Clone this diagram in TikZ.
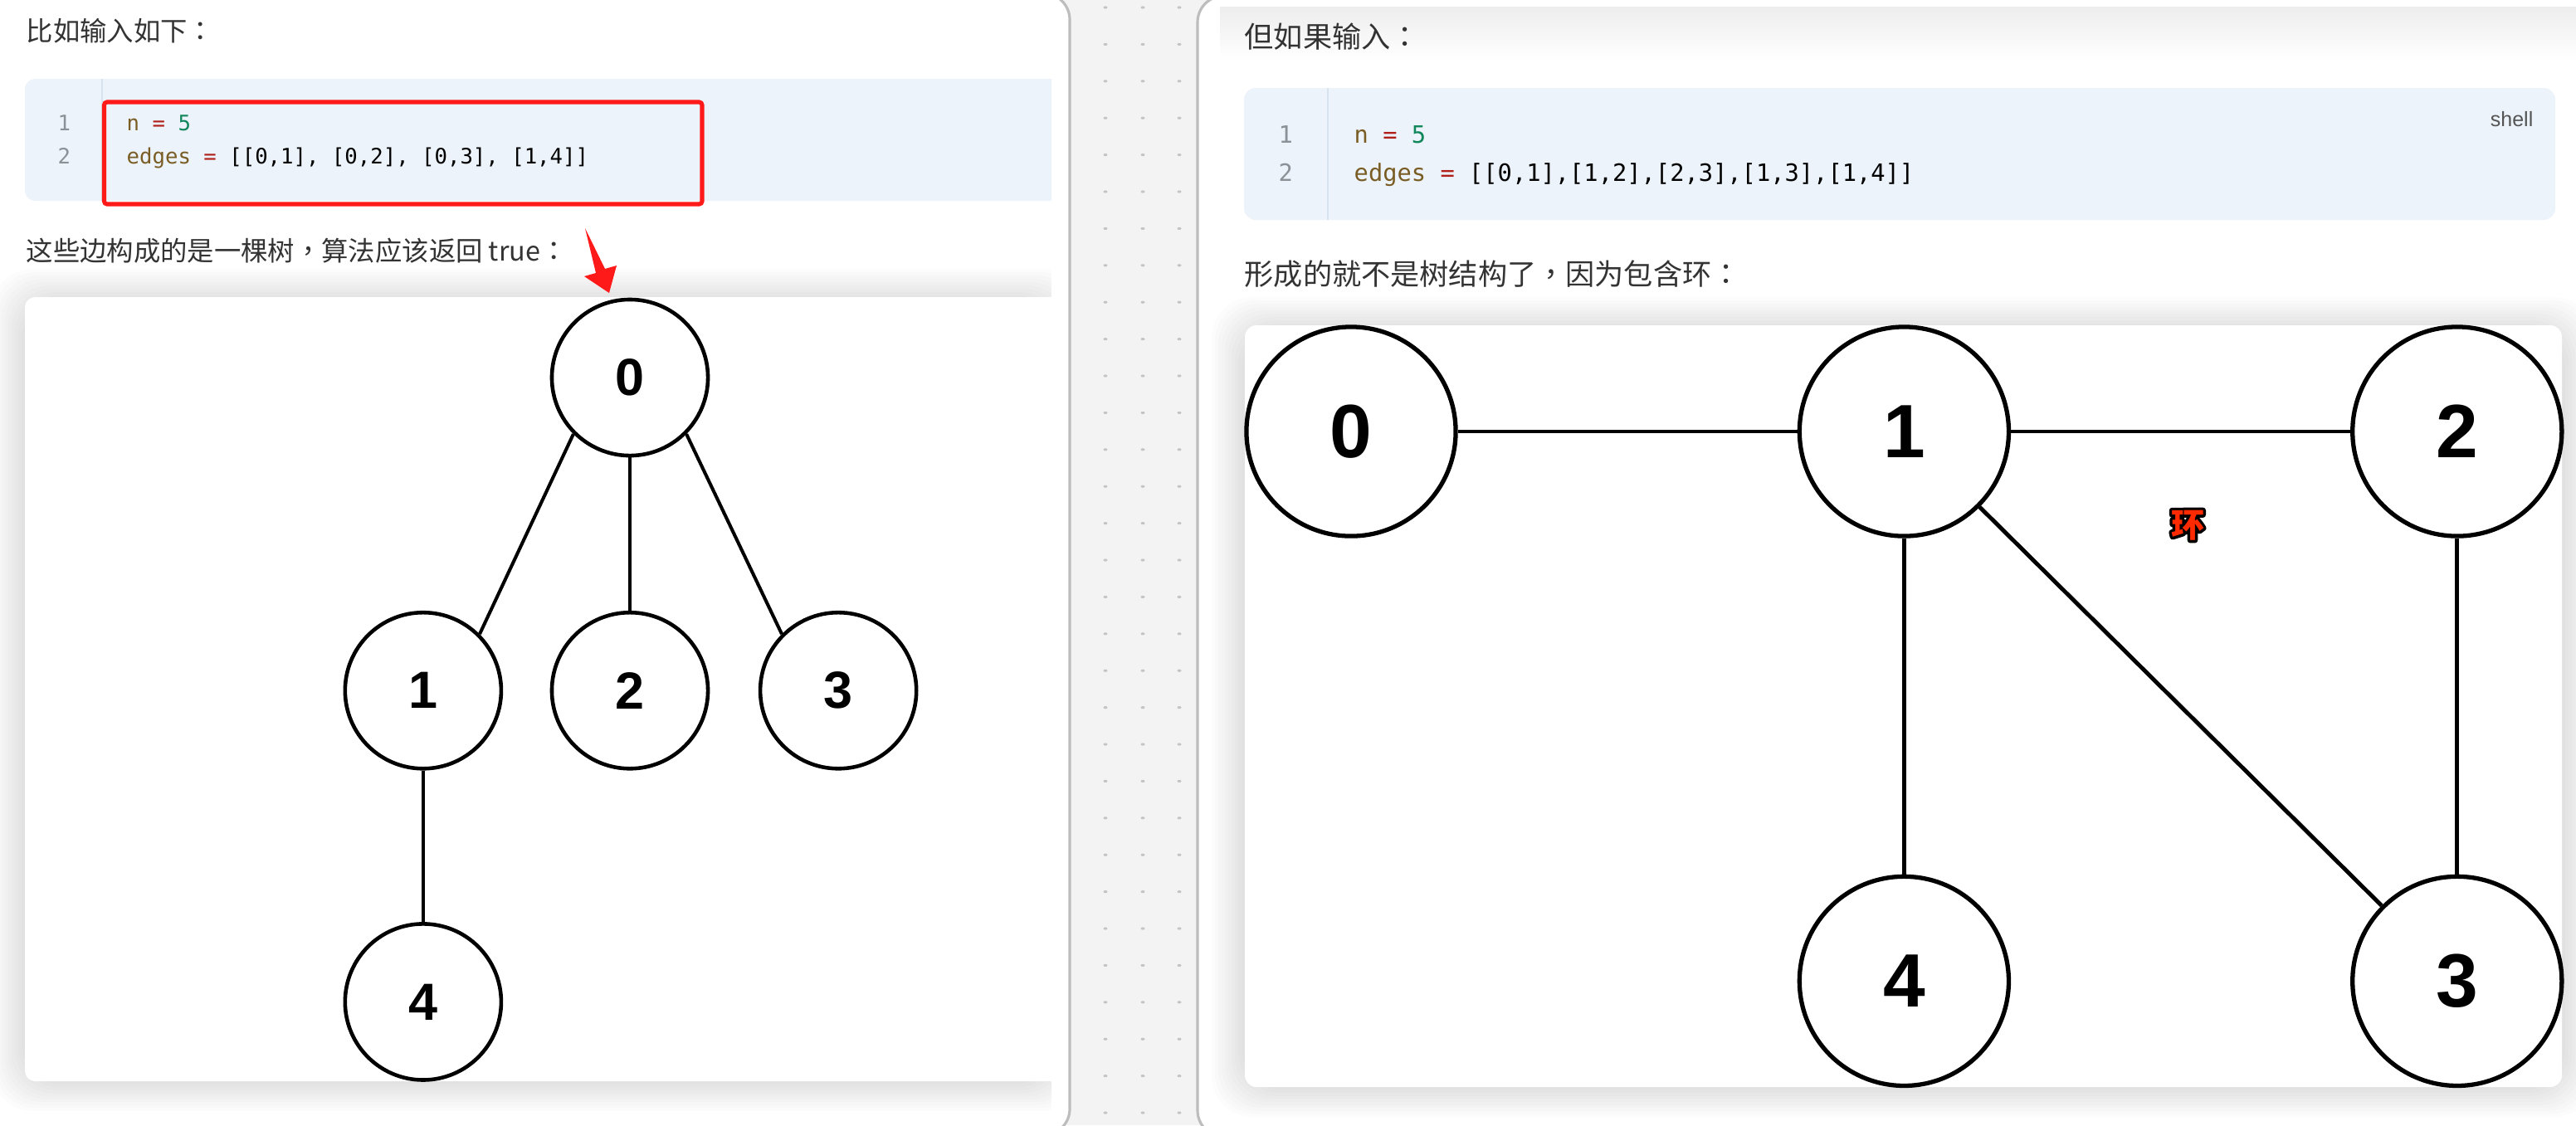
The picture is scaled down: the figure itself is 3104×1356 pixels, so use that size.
\documentclass[tikz,border=0pt]{standalone}
\usepackage{fontspec}
\setmainfont{Liberation Sans}
\newfontfamily\cjkfont{Noto Sans CJK SC}
\newfontfamily\cjkpunct{Noto Sans CJK TC}
\newfontfamily\codefont{DejaVu Sans Mono}
\usetikzlibrary{positioning, calc}
\definecolor{pagegray}{HTML}{F3F3F3}
\definecolor{panelline}{HTML}{BDBDBD}
\definecolor{dotgray}{HTML}{C4C4C4}
\definecolor{textdark}{HTML}{333333}
\definecolor{codebg}{HTML}{ECF3FA}
\definecolor{gutterline}{HTML}{D6E2EE}
\definecolor{linenogray}{HTML}{8C9097}
\definecolor{codevar}{HTML}{7A5D24}
\definecolor{codeop}{HTML}{B0201A}
\definecolor{codenum}{HTML}{10875A}
\definecolor{hlred}{HTML}{FF1A1A}
\definecolor{ringred}{HTML}{FF2A00}
\definecolor{tagsgray}{HTML}{555555}
% black outline drawn under the glyph (stroke only), then the glyph itself
\newcommand{\ringoutline}[2]{\rlap{\special{pdf:literal direct 1 Tr 1 j #1 w 0 0 0 RG}#2\special{pdf:literal direct 0 Tr}}#2}

\begin{document}
\begin{tikzpicture}[
    x=0.01cm, y=-0.01cm,
    para/.style={anchor=base west, inner sep=0pt, text=textdark},
    codeline/.style={anchor=base west, inner sep=0pt, text=black},
    lineno/.style={anchor=base west, inner sep=0pt, text=linenogray},
    vertL/.style={draw, circle, line width=1.3pt, minimum size=1.88cm, inner sep=0pt, fill=white, font=\bfseries\fontsize{17.9}{18}\selectfont},
    vertR/.style={vertL, line width=1.5pt, minimum size=2.52cm, font=\bfseries\fontsize{25.9}{26}\selectfont},
    edgeL/.style={line width=1.15pt},
    edgeR/.style={line width=1.4pt},
    ringtxt/.style={inner sep=0pt, font=\cjkfont\bfseries\fontsize{11.4}{12}\selectfont},
    node distance=1cm, on grid,
]
    \useasboundingbox (0,0) rectangle (3104,1356);
    \fill[pagegray] (0,0) rectangle (3104,1356);

    % dotted strip between the panels
    \foreach \c in {1332,1377,1421}
        \foreach \k in {0,...,30}
            \fill[dotgray] (\c,9+44.4*\k) ellipse (2.5 and 1.6);

    % panels
    \draw[panelline, line width=0.9pt, fill=white, rounded corners=9pt] (-40,-8) rectangle (1289,1368);
    \draw[panelline, line width=0.9pt, fill=white, rounded corners=9pt] (1443,-5) rectangle (3160,1370);

    % ---- left panel ----
    \begin{scope}
        \clip (0,0) rectangle (1267,1356);
        \node[para, font=\cjkfont\fontsize{9.2}{10}\selectfont] (introL) at (31,49) {比如输入如下{\cjkpunct ：}};

        \fill[codebg, rounded corners=3.5pt] (30,95) rectangle (1300,242);
        \draw[gutterline, line width=0.6pt] (123,95) -- (123,242);
        \node[lineno, font=\codefont\fontsize{7.3}{8}\selectfont] (numLa) at (69,157) {1};
        \node[lineno, font=\codefont\fontsize{7.3}{8}\selectfont] (numLb) at (69,197) {2};
        \node[codeline, font=\codefont\fontsize{7.3}{8}\selectfont] (codeLa) at (152,157)
            {\textcolor{codevar}{n} \textcolor{codeop}{=} \textcolor{codenum}{5}};
        \node[codeline, font=\codefont\fontsize{7.3}{8}\selectfont] (codeLb) at (152,197)
            {\textcolor{codevar}{edges} \textcolor{codeop}{=} [[0,1], [0,2], [0,3], [1,4]]};
        \draw[hlred, line width=1.45pt, rounded corners=1pt] (125.5,123) rectangle (846,246);

        \node[para, font=\cjkfont\fontsize{9.2}{10}\selectfont] (noteL) at (31,314)
            {这些边构成的是一棵树{\cjkpunct ，}算法应该返回 true{\cjkpunct ：}};

        % card shadow + card
        \foreach \k in {1,...,10}
            \fill[black, opacity=0.011, rounded corners=14] (30-4*\k,358-4*\k+6) rectangle (1267+4*\k,1303+3.6*\k);
        \fill[white, rounded corners=3.5pt] (30,358) rectangle (1300,1303);

        % tree
        \node[vertL] (t0) at (759,455) {0};
        \node[vertL, below=3.77cm of t0] (t2) {2};
        \node[vertL, left=2.49cm of t2] (t1) {1};
        \node[vertL, right=2.51cm of t2] (t3) {3};
        \node[vertL, below=3.75cm of t1] (t4) {4};
        \draw[edgeL] (t0.225) -- (t1.45);
        \draw[edgeL] (t0.south) -- (t2.north);
        \draw[edgeL] (t0.-45) -- (t3.135);
        \draw[edgeL] (t1.south) -- (t4.north);

        % pointer from the text to the root
        \coordinate (arrtail) at (705,275);
        \coordinate (arrtip) at (734,353);
        \fill[hlred] (arrtail) -- (729,324) -- (743,320) -- (arrtip) -- (704,333) -- (718,329) -- cycle;
    \end{scope}

    % ---- right panel ----
    \shade[top color=black!7, bottom color=white] (1470,8) rectangle (3104,72);
    \node[para, font=\cjkfont\fontsize{10}{11}\selectfont] (introR) at (1499,57) {但如果输入{\cjkpunct ：}};

    \fill[codebg, rounded corners=4pt] (1499,106) rectangle (3079,265);
    \draw[gutterline, line width=0.6pt] (1600,106) -- (1600,265);
    \node[anchor=base east, inner sep=0pt, text=tagsgray, font=\fontsize{7.1}{8}\selectfont] (lang) at (3053,152) {shell};
    \node[lineno, font=\codefont\fontsize{8.17}{9}\selectfont] (numRa) at (1540,172) {1};
    \node[lineno, font=\codefont\fontsize{8.17}{9}\selectfont] (numRb) at (1540,218) {2};
    \node[codeline, font=\codefont\fontsize{8.17}{9}\selectfont] (codeRa) at (1631,172)
        {\textcolor{codevar}{n} \textcolor{codeop}{=} \textcolor{codenum}{5}};
    \node[codeline, font=\codefont\fontsize{8.17}{9}\selectfont] (codeRb) at (1631,218)
        {\textcolor{codevar}{edges} \textcolor{codeop}{=} [[0,1],[1,2],[2,3],[1,3],[1,4]]};

    \node[para, font=\cjkfont\fontsize{10}{11}\selectfont] (noteR) at (1499,343)
        {形成的就不是树结构了{\cjkpunct ，}因为包含环{\cjkpunct ：}};

    \foreach \k in {1,...,10}
        \fill[black, opacity=0.011, rounded corners=14] (1500-4*\k,392-4*\k+6) rectangle (3087+4*\k,1310+3.6*\k);
    \fill[white, rounded corners=4pt] (1500,392) rectangle (3087,1310);

    % graph with a cycle
    \node[vertR] (g0) at (1628,520) {0};
    \node[vertR, right=6.66cm of g0] (g1) {1};
    \node[vertR, right=6.66cm of g1] (g2) {2};
    \node[vertR, below=6.62cm of g1] (g4) {4};
    \node[vertR, below=6.62cm of g2] (g3) {3};
    \draw[edgeR] (g0.east) -- (g1.west);
    \draw[edgeR] (g1.east) -- (g2.west);
    \draw[edgeR] (g2.south) -- (g3.north);
    \draw[edgeR] (g1.-45) -- (g3.135);
    \draw[edgeR] (g1.south) -- (g4.north);

    % cycle mark
    \node[ringtxt, text=ringred] (ring) at (2636,633) {\ringoutline{1.9}{环}};
\end{tikzpicture}
\end{document}
